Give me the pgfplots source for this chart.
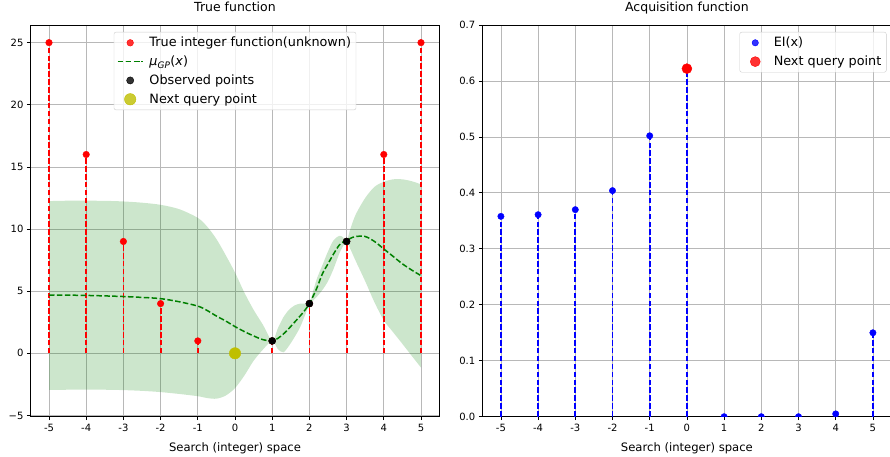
\documentclass[border=0pt]{standalone}
\usepackage{fontspec}
\setmainfont{DejaVu Sans}
\usepackage{pgfplots}
\pgfplotsset{compat=1.18}
\usepackage{pgfplotstable}
\usepgfplotslibrary{fillbetween}
\definecolor{mplgreen}{rgb}{0,0.5,0}
\definecolor{mplyellow}{rgb}{0.75,0.75,0}
\definecolor{gridgray}{rgb}{0.72,0.72,0.72}
\definecolor{legframe}{rgb}{0.8,0.8,0.8}

\pgfplotstableread{
x u m l
-5 12.25 4.69 -2.95
-4.5 12.28 4.68 -2.93
-4 12.28 4.66 -2.92
-3.5 12.27 4.62 -2.93
-3 12.22 4.57 -2.96
-2.5 12.12 4.50 -3.02
-2 11.95 4.40 -3.12
-1.5 11.60 4.15 -3.27
-1 10.90 3.80 -3.45
-0.75 10.20 3.45 -3.60
-0.5 9.20 3.00 -3.65
-0.25 7.90 2.60 -3.40
0 6.50 2.15 -2.80
0.25 4.90 1.75 -1.80
0.5 3.50 1.40 -0.60
0.75 2.30 1.10 0.30
1 1.00 1.00 1.00
1.15 2.00 1.20 0.35
1.3 2.90 1.55 0.08
1.45 3.50 2.00 0.60
1.6 3.85 2.50 1.30
1.75 4.00 3.00 2.10
1.9 4.00 3.55 3.20
2 4.00 4.00 4.00
2.1 5.00 4.60 4.25
2.2 6.00 5.25 4.55
2.35 7.10 6.40 5.10
2.5 8.20 7.20 5.80
2.65 9.10 8.00 6.80
2.8 9.45 8.70 8.00
2.9 9.35 8.95 8.60
3 9.00 9.00 9.00
3.1 10.00 9.25 8.40
3.25 11.20 9.40 7.40
3.5 12.50 9.40 5.80
3.75 13.40 9.00 4.10
4 13.80 8.40 2.66
4.25 14.00 7.80 1.70
4.5 14.00 7.20 0.76
4.75 13.85 6.70 -0.20
5 13.60 6.25 -1.15
}\gp

\pgfplotstableread{
x y
-5 25
-4 16
-3 9
-2 4
-1 1
0 0
1 1
2 4
3 9
4 16
5 25
}\truef

\pgfplotstableread{
x y
1 1
2 4
3 9
}\obs

\pgfplotstableread{
x y
-5 0.358
-4 0.361
-3 0.370
-2 0.404
-1 0.502
0 0.622
1 0.000
2 0.000
3 0.000
4 0.005
5 0.150
}\ei

\pgfplotsset{
  mleg/.style={legend image code/.code={\path[draw=none,fill=none] (0pt,-2pt) rectangle (25pt,2pt);\draw[mark repeat=2,mark phase=2,##1] plot coordinates {(0pt,0pt)(12.5pt,0pt)(25pt,0pt)};}},
  lleg/.style={legend image code/.code={\path[draw=none,fill=none] (0pt,-2pt) rectangle (25pt,2pt);\draw[##1, draw=mplgreen, line width=1.5pt, dash pattern=on 5.5pt off 2.4pt] plot coordinates {(0pt,0pt)(25pt,0pt)};}},
  mpl/.style={
    scale only axis, width=409.2pt, height=391.7pt,
    axis line style={black, line width=0.8pt},
    grid=major, major grid style={gridgray, line width=0.8pt},
    tick align=outside, tick pos=left, major tick length=3.5pt,
    tick style={black, line width=0.8pt},
    ticklabel style={font=\fontsize{10}{12}\selectfont},
    xmin=-5.5, xmax=5.5,
    xtick={-5,-4,-3,-2,-1,0,1,2,3,4,5},
    xticklabels={-5,-4,-3,-2,-1,0,1,2,3,4,5},
    xlabel={Search (integer) space},
    xlabel style={font=\fontsize{11.6}{14}\selectfont, at={(0.5,0)}, anchor=base, yshift=-35pt},
    title style={font=\fontsize{12.5}{15}\selectfont, at={(0.5,1)}, anchor=base, yshift=7pt},
    legend style={font=\fontsize{12.8}{15}\selectfont, draw=legframe, rounded corners=2pt,
      fill=white, fill opacity=0.8, text opacity=1, row sep=3.6pt,
      inner xsep=3pt, inner ysep=3pt},
    legend cell align=left,
    clip marker paths=true,
  }
}

\begin{document}
\begin{tikzpicture}
\begin{axis}[mpl, at={(30.4pt,40.3pt)}, anchor=south west,
  title={True function},
  ymin=-5.1, ymax=26.42,
  ytick={-5,0,5,10,15,20,25},
  yticklabels={−5,0,5,10,15,20,25},
  legend style={at={(0.5,1)}, anchor=north, yshift=-7pt},
]
\addplot[name path=up, draw=none, forget plot, smooth, tension=0.5] table[x=x,y=u]{\gp};
\addplot[name path=lo, draw=none, forget plot, smooth, tension=0.5] table[x=x,y=l]{\gp};
\addplot[fill=mplgreen, fill opacity=0.2, draw=none, forget plot] fill between[of=up and lo];
\addplot[ycomb, red, line width=1.8pt, dash pattern=on 5.5pt off 2.4pt, no marks, forget plot] table[x=x,y=y]{\truef};
\addplot[only marks, mleg, mark=*, mark size=3.3pt, red, mark options={draw=red, fill=red}] table[x=x,y=y]{\truef};
\addlegendentry{\hspace*{4pt}True integer function(unknown)}
\addplot[lleg, mplgreen, line width=1.5pt, dash pattern=on 5.5pt off 2.4pt, smooth, tension=0.5, no marks] table[x=x,y=m]{\gp};
\addlegendentry{\hspace*{4pt}{\itshape μ}\textsubscript{\itshape GP}(\textit{x})}
\addplot[only marks, mleg, mark=*, mark size=3.6pt, black, mark options={draw=black, fill=black}] table[x=x,y=y]{\obs};
\addlegendentry{\hspace*{4pt}Observed points}
\addplot[only marks, mleg, mark=*, mark size=5.7pt, mplyellow, mark options={draw=mplyellow, fill=mplyellow}] coordinates {(0,0)};
\addlegendentry{\hspace*{4pt}Next query point}
\end{axis}

\begin{axis}[mpl, at={(482.3pt,40.3pt)}, anchor=south west,
  title={Acquisition function},
  ymin=0, ymax=0.7,
  ytick={0,0.1,0.2,0.3,0.4,0.5,0.6,0.7},
  yticklabels={0.0,0.1,0.2,0.3,0.4,0.5,0.6,0.7},
  legend style={at={(1,1)}, anchor=north east, xshift=-5pt, yshift=-7pt},
]
\addplot[ycomb, blue, line width=1.8pt, dash pattern=on 5.5pt off 2.4pt, no marks, forget plot] table[x=x,y=y]{\ei};
\addplot[only marks, mleg, mark=*, mark size=3.2pt, blue, mark options={draw=blue, fill=blue}] table[x=x,y=y]{\ei};
\addlegendentry{\hspace*{4pt}EI(x)}
\addplot[only marks, mleg, mark=*, mark size=5pt, red, mark options={draw=red, fill=red}] coordinates {(0,0.622)};
\addlegendentry{\hspace*{4pt}Next query point}
\end{axis}
\pgfresetboundingbox
\path[use as bounding box] (0,0) rectangle (890pt,457pt);
\end{tikzpicture}
\end{document}
